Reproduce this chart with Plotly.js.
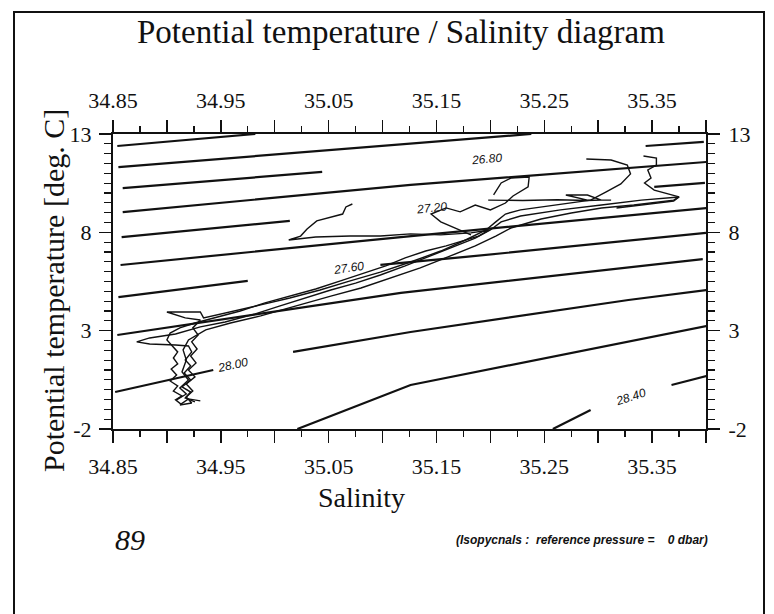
<!DOCTYPE html>
<html><head><meta charset="utf-8">
<script src="https://cdn.plot.ly/plotly-3.0.1.min.js"></script>
<style>body{margin:0;background:#fff}#c{width:774px;height:614px}</style>
</head><body><div id="c"></div>
<script>
// ---- axis ticks ----
const xTickVals = [34.85,34.90,34.95,35.00,35.05,35.10,35.15,35.20,35.25,35.30,35.35,35.40];
const xTickText = ['34.85','','34.95','','35.05','','35.15','','35.25','','35.35',''];
const yTickVals = [-2,3,8,13];
const yTickText = ['-2','3','8','13'];

// ---- isopycnals (sigma-theta): each segment S[], T[] ----
const iso_264_S = [34.854,34.982]; const iso_264_T = [12.39,13.0];
const iso_266_S = [34.855,35.126,35.238]; const iso_266_T = [11.32,12.53,13.0];
const iso_268a_S = [34.859,35.044]; const iso_268a_T = [10.25,11.07];
const iso_268b_S = [35.344,35.398]; const iso_268b_T = [12.39,12.60];
const iso_270_S = [34.859,35.126,35.401]; const iso_270_T = [9.03,10.41,11.58];
const iso_272a_S = [34.858,35.014]; const iso_272a_T = [7.76,8.58];
const iso_272b_S = [35.352,35.399]; const iso_272b_T = [10.31,10.51];
const iso_274_S = [34.857,35.117,35.401]; const iso_274_T = [6.34,7.76,9.24];
const iso_276a_S = [34.855,34.975]; const iso_276a_T = [4.71,5.53];
const iso_276b_S = [35.098,35.177,35.400]; const iso_276b_T = [6.35,6.75,7.97];
const iso_278_S = [34.854,35.117,35.397]; const iso_278_T = [2.78,4.92,6.64];
const iso_280a_S = [34.852,34.943]; const iso_280a_T = [-0.12,1.00];
const iso_280b_S = [35.017,35.126,35.328,35.401]; const iso_280b_T = [1.92,2.93,4.56,5.07];
const iso_282_S = [35.021,35.126,35.401]; const iso_282_T = [-2.0,0.24,3.24];
const iso_284a_S = [35.258,35.293]; const iso_284a_T = [-2.0,-1.03];
const iso_284b_S = [35.368,35.401]; const iso_284b_T = [0.24,0.70];

// contour labels
const isoLabels = ['26.80','27.20','27.60','28.00','28.40'];
const isoLabelS = [35.196,35.145,35.068,34.961,35.330];
const isoLabelT = [11.73,9.24,6.19,1.26,-0.37];
const isoLabelAngle = [-5,-6,-8,-12,-18];

// ---- profiles (Salinity, potential temperature) ----
const p1_S = [34.931,34.920,34.913,34.908,34.914,34.906,34.910,34.903,34.909,34.904,34.910,34.906,34.910,34.905,34.900,34.903,34.912,34.926,34.945,34.968,34.991,35.014,35.038,35.061,35.081,35.103,35.121,35.140,35.159,35.174,35.189,35.199,35.182,35.154,35.126,35.098,35.070,35.038,35.013,35.024,35.030,35.039,35.052,35.063,35.066,35.072];
const p1_T = [-0.57,-0.47,-0.73,-0.52,-0.32,-0.07,0.19,0.44,0.75,1.05,1.31,1.61,1.92,2.22,2.53,2.88,3.14,3.39,3.65,4.00,4.41,4.76,5.12,5.53,5.88,6.29,6.70,7.05,7.31,7.56,7.81,8.12,7.97,7.87,7.92,7.81,7.81,7.76,7.61,7.81,8.17,8.58,8.78,8.93,9.29,9.44];
const p2_S = [34.926,34.917,34.922,34.914,34.922,34.916,34.922,34.917,34.923,34.920,34.908,34.884,34.872,34.884,34.908,34.931,34.954,34.982,35.005,35.028,35.052,35.075,35.098,35.121,35.145,35.168,35.186,35.200,35.210,35.228,35.265,35.303,35.340,35.375,35.370,35.340,35.317];
const p2_T = [-0.62,-0.42,-0.12,0.14,0.49,0.85,1.21,1.51,1.92,2.22,2.27,2.32,2.43,2.63,2.83,3.19,3.44,3.85,4.26,4.66,5.07,5.42,5.83,6.29,6.80,7.31,7.71,8.12,8.53,8.83,9.14,9.39,9.64,9.80,9.59,9.39,9.24];
const p3_S = [34.912,34.923,34.918,34.924,34.918,34.926,34.920,34.927,34.922,34.928,34.923,34.929,34.924,34.931,34.917,34.900,34.917,34.931,34.934,34.959,34.987,35.014,35.042,35.070,35.098,35.126,35.154,35.177,35.196,35.205,35.214,35.228,35.247,35.270,35.293,35.307,35.321,35.330,35.327,35.312,35.289];
const p3_T = [-0.78,-0.68,-0.37,-0.07,0.29,0.65,1.00,1.36,1.71,2.07,2.43,2.78,3.14,3.54,3.65,3.95,3.95,3.95,3.65,3.95,4.31,4.66,5.07,5.53,5.98,6.49,7.05,7.61,8.12,8.53,8.93,9.14,9.29,9.44,9.64,10.05,10.46,10.97,11.42,11.68,11.73];
const p4_S = [34.909,34.918,34.912,34.920,34.914,34.918,34.915,34.920,34.936,34.959,34.987,35.019,35.052,35.080,35.107,35.135,35.163,35.186,35.205,35.219,35.247,35.275,35.303,35.333,35.370,35.375,35.352,35.343,35.349,35.346,35.354,35.354,35.342];
const p4_T = [-0.52,-0.22,0.09,0.49,0.90,1.51,2.02,2.53,3.04,3.39,3.75,4.26,4.76,5.17,5.68,6.19,6.80,7.31,7.81,8.22,8.68,8.98,9.24,9.39,9.64,9.80,10.15,10.51,10.76,11.17,11.42,11.78,11.88];
const p5_S = [35.182,35.168,35.154,35.145,35.159,35.172,35.186,35.200,35.214,35.221,35.235,35.236,35.219,35.210,35.203];
const p5_T = [7.87,8.22,8.53,8.93,9.24,9.04,9.39,9.14,9.49,9.85,10.31,10.81,10.76,10.51,9.90];
const p6_S = [35.198,35.230,35.262,35.290,35.303,35.290,35.270,35.290,35.312];
const p6_T = [9.64,9.62,9.66,9.62,9.64,9.90,9.90,9.64,9.64];

const INK = '#111';
const isoSegs = [
  [iso_264_S,iso_264_T],[iso_266_S,iso_266_T],[iso_268a_S,iso_268a_T],[iso_268b_S,iso_268b_T],
  [iso_270_S,iso_270_T],[iso_272a_S,iso_272a_T],[iso_272b_S,iso_272b_T],[iso_274_S,iso_274_T],
  [iso_276a_S,iso_276a_T],[iso_276b_S,iso_276b_T],[iso_278_S,iso_278_T],[iso_280a_S,iso_280a_T],
  [iso_280b_S,iso_280b_T],[iso_282_S,iso_282_T],[iso_284a_S,iso_284a_T],[iso_284b_S,iso_284b_T]
];
const traces = [];
isoSegs.forEach(s => traces.push({x:s[0], y:s[1], mode:'lines', line:{color:INK, width:2.2}, hoverinfo:'skip', showlegend:false}));
[[p1_S,p1_T],[p2_S,p2_T],[p3_S,p3_T],[p4_S,p4_T],[p5_S,p5_T],[p6_S,p6_T]].forEach(p =>
  traces.push({x:p[0], y:p[1], mode:'lines', line:{color:INK, width:1.4}, hoverinfo:'skip', showlegend:false}));
traces.push({x:[34.85], y:[-2], xaxis:'x2', yaxis:'y2', mode:'markers', marker:{opacity:0}, hoverinfo:'skip', showlegend:false});

const serif = 'Liberation Serif, Times New Roman, serif';
const xBase = {range:[34.85,35.40], tickmode:'array', tickvals:xTickVals, ticktext:xTickText,
  ticks:'outside', ticklen:12, tickwidth:1.5, tickcolor:INK, showline:true, linewidth:2, linecolor:INK,
  showgrid:false, zeroline:false, tickfont:{family:serif, size:22, color:INK},
  minor:{dtick:0.025, tick0:34.85, ticks:'outside', ticklen:6, tickwidth:1.3, tickcolor:INK, showgrid:false}};
const yBase = {range:[-2,13], tickmode:'array', tickvals:yTickVals, ticktext:yTickText,
  ticks:'outside', ticklen:12, tickwidth:1.5, tickcolor:INK, showline:true, linewidth:2, linecolor:INK,
  showgrid:false, zeroline:false, tickfont:{family:serif, size:22, color:INK},
  minor:{dtick:0.5, tick0:-2, ticks:'outside', ticklen:7, tickwidth:1.3, tickcolor:INK, showgrid:false}};

const px2x = p => (p-113)/593, py2y = p => (429-p)/295;
const annotations = [
  {text:'Potential temperature / Salinity diagram', x:px2x(401), y:py2y(32), xref:'paper', yref:'paper', showarrow:false, xanchor:'center', yanchor:'middle', font:{family:serif, size:33, color:INK}},
  {text:'Salinity', x:px2x(361), y:py2y(497), xref:'paper', yref:'paper', showarrow:false, xanchor:'center', yanchor:'middle', font:{family:serif, size:28, color:INK}},
  {text:'Potential temperature [deg. C]', x:px2x(53), y:py2y(291), xref:'paper', yref:'paper', showarrow:false, textangle:-90, xanchor:'center', yanchor:'middle', font:{family:serif, size:30, color:INK}},
  {text:'<i>89</i>', x:px2x(130), y:py2y(539), xref:'paper', yref:'paper', showarrow:false, xanchor:'center', yanchor:'middle', font:{family:serif, size:30, color:INK}},
  {text:'<b><i>(Isopycnals :  reference pressure =    0 dbar)</i></b>', x:px2x(582), y:py2y(540), xref:'paper', yref:'paper', showarrow:false, xanchor:'center', yanchor:'middle', font:{family:'Liberation Sans Narrow, Liberation Sans, sans-serif', size:12, color:INK}}
];
isoLabels.forEach((t,i) => annotations.push({text:'<i>'+t+'</i>', x:isoLabelS[i], y:isoLabelT[i], xref:'x', yref:'y', showarrow:false, textangle:isoLabelAngle[i], font:{family:'Liberation Sans, sans-serif', size:12, color:INK}}));

const layout = {
  width:774, height:614, margin:{l:113, r:68, t:134, b:185},
  paper_bgcolor:'#fff', plot_bgcolor:'#fff', showlegend:false,
  xaxis: Object.assign({}, xBase, {side:'bottom', ticklabelstandoff:5}),
  yaxis: Object.assign({}, yBase, {side:'left', ticklabelstandoff:3}),
  xaxis2: Object.assign({}, xBase, {side:'top', overlaying:'x', anchor:'y2', ticklabelstandoff:3}),
  yaxis2: Object.assign({}, yBase, {side:'right', overlaying:'y', anchor:'x2', ticklabelstandoff:4}),
  annotations: annotations,
  shapes:[{type:'rect', xref:'paper', yref:'paper', x0:px2x(14), x1:px2x(764), y0:py2y(625), y1:py2y(12), line:{color:INK, width:2}, fillcolor:'rgba(0,0,0,0)'}]
};
Plotly.newPlot('c', traces, layout, {staticPlot:true});
</script></body></html>
